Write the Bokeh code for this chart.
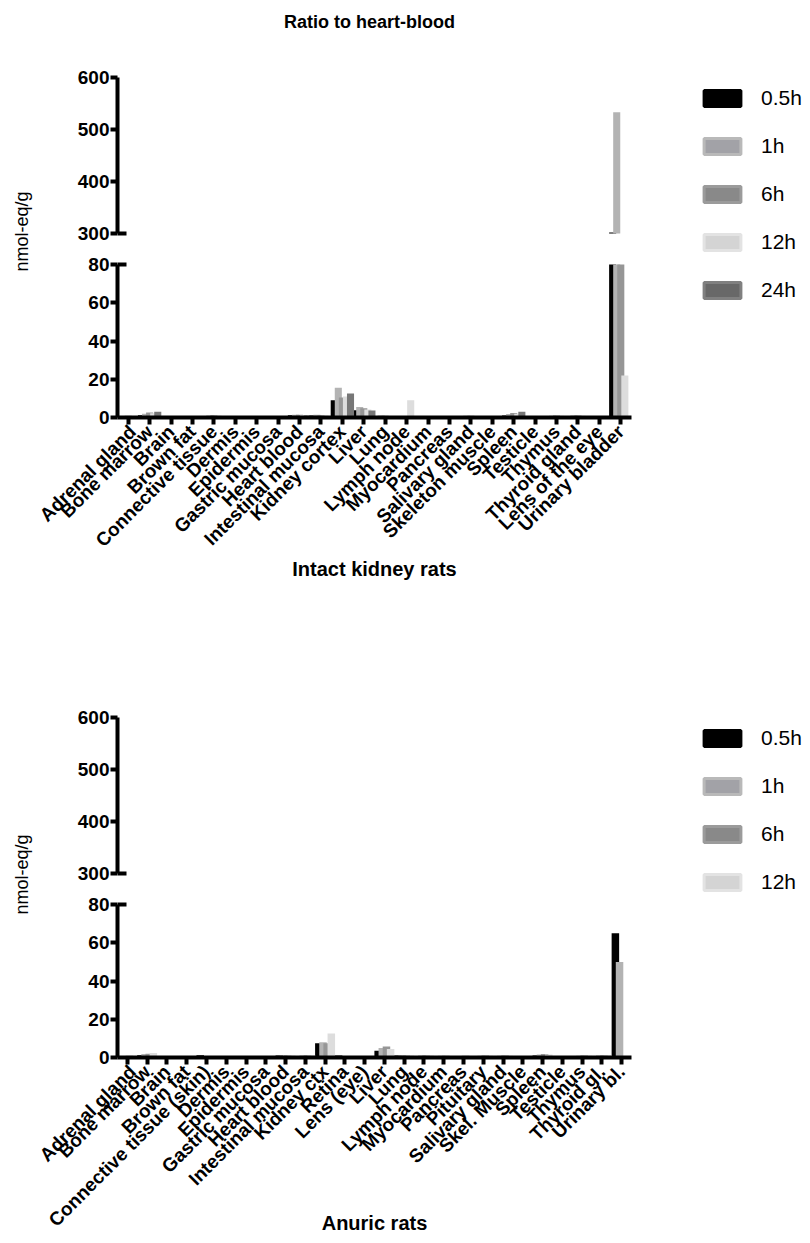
import numpy as np
from math import pi
from bokeh.plotting import figure
from bokeh.models import (ColumnDataSource, FactorRange, Range1d, FixedTicker,
                          Legend, LegendItem, Label, BoxAnnotation)
from bokeh.transform import dodge
from bokeh.layouts import column, row
from bokeh.embed import file_html
from bokeh.resources import INLINE

FONT = "Liberation Sans"

# ---------------- data: intact kidney rats (nmol-eq/g) ----------------
intact_tissues = ["Adrenal gland", "Bone marrow", "Brain", "Brown fat", "Connective tissue",
                  "Dermis", "Epidermis", "Gastric mucosa", "Heart blood", "Intestinal mucosa",
                  "Kidney cortex", "Liver", "Lung", "Lymph node", "Myocardium", "Pancreas",
                  "Salivary gland", "Skeleton muscle", "Spleen", "Testicle", "Thymus",
                  "Thyroid gland", "Lens of the eye", "Urinary bladder"]
intact_0_5h = [0.6, 1.2, 0.1, 0.3, 0.6, 0.3, 0.3, 0.4, 1.2, 1.0, 9.0, 3.8, 0.8, 0.5, 0.6, 0.6,
               0.6, 0.3, 1.0, 0.3, 0.6, 0.7, 0.1, 302]
intact_1h = [0.8, 2.0, 0.2, 0.5, 1.0, 0.4, 0.5, 0.6, 1.5, 1.4, 15.5, 5.5, 1.0, 0.7, 0.8, 0.8,
             0.9, 0.4, 1.8, 0.4, 0.9, 1.0, 0.1, 533]
intact_6h = [0.9, 2.6, 0.2, 0.5, 1.2, 0.5, 0.5, 0.7, 1.4, 1.2, 10.5, 4.8, 0.9, 0.8, 0.8, 0.8,
             0.9, 0.4, 2.4, 0.5, 1.0, 1.0, 0.1, 190]
intact_12h = [0.7, 2.2, 0.1, 0.4, 1.0, 0.4, 0.4, 0.5, 1.3, 1.1, 11.0, 4.2, 0.8, 9.0, 0.7, 0.7,
              0.8, 0.3, 2.0, 0.4, 0.9, 0.9, 0.1, 22]
intact_24h = [0.5, 3.0, 0.1, 0.3, 0.7, 0.3, 0.3, 0.4, 1.0, 0.8, 12.5, 3.6, 0.6, 0.6, 0.5, 0.5,
              0.6, 0.3, 3.0, 0.4, 0.7, 0.8, 0.1, 0]

# ---------------- data: anuric rats (nmol-eq/g) ----------------
anuric_tissues = ["Adrenal gland", "Bone marrow", "Brain", "Brown fat", "Connective tissue (skin)",
                  "Dermis", "Epidermis", "Gastric mucosa", "Heart blood", "Intestinal mucosa",
                  "Kidney ctx", "Retina", "Lens (eye)", "Liver", "Lung", "Lymph node",
                  "Myocardium", "Pancreas", "Pituitary", "Salivary gland", "Skel. Muscle",
                  "Spleen", "Testicle", "Thymus", "Thyroid gl.", "Urinary bl."]
anuric_0_5h = [0.6, 1.2, 0.1, 0.4, 1.2, 0.4, 0.4, 0.5, 1.0, 0.8, 7.5, 1.0, 0.1, 3.5, 1.0, 0.8,
               0.7, 0.6, 0.7, 0.7, 0.3, 1.0, 0.5, 0.6, 0.7, 65]
anuric_1h = [0.8, 1.8, 0.2, 0.5, 0.8, 0.5, 0.5, 0.7, 1.0, 1.0, 8.0, 0.8, 0.1, 5.0, 1.2, 1.0,
             0.9, 0.8, 0.9, 0.9, 0.4, 1.6, 0.7, 0.9, 1.0, 50]
anuric_6h = [0.9, 2.0, 0.2, 0.5, 0.7, 0.5, 0.5, 0.8, 1.1, 1.1, 7.5, 0.6, 0.1, 5.8, 1.1, 1.1,
             0.9, 0.9, 1.0, 1.0, 0.5, 1.8, 0.8, 1.0, 1.1, 0]
anuric_12h = [0.7, 2.4, 0.2, 0.4, 0.6, 0.4, 0.5, 0.7, 1.0, 1.0, 12.5, 0.5, 0.1, 4.5, 1.0, 1.0,
              0.8, 0.8, 0.9, 0.9, 0.4, 1.6, 0.7, 0.9, 1.0, 0]

series_labels = ["0.5h", "1h", "6h", "12h", "24h"]
bar_colors = ["#000000", "#b3b3b3", "#969696", "#dddddd", "#777777"]
swatch_fill = ["#000000", "#a2a2a7", "#898989", "#d4d4d4", "#686868"]
swatch_line = ["#000000", "#b9b9b9", "#9b9b9b", "#e3e3e3", "#808080"]

y_lower_ticks = [0, 20, 40, 60, 80]
y_upper_ticks = [300, 400, 500, 600]

# layout constants (pixels)
LEFT_W = 35          # column holding the y-axis title
PLOT_W = 624         # figures with the bars
LEG_W = 149          # column holding the legend
MB_LEFT, MB_RIGHT = 82, 28
UP_FRAME, LO_FRAME = 160, 157   # frames incl. 4px past the break
UP_PX, LO_PX = 156, 153         # pixels for 300..600 and 0..80
BREAK_PAD = 4


def bare_figure(w, h, xr, yr):
    f = figure(width=w, height=h, x_range=xr, y_range=yr, output_backend="svg",
               toolbar_location=None, x_axis_location=None, y_axis_location=None,
               min_border=0, outline_line_color=None)
    f.grid.visible = False
    return f


def style_yaxis(ax):
    ax.axis_line_width = 4
    ax.axis_line_color = "black"
    ax.major_tick_line_width = 4
    ax.major_tick_line_color = "black"
    ax.major_tick_out = 7
    ax.major_tick_in = 0
    ax.minor_tick_line_color = None
    ax.major_label_text_font = FONT
    ax.major_label_text_font_style = "bold"
    ax.major_label_text_font_size = "19px"
    ax.major_label_text_color = "black"
    ax.major_label_standoff = 1


def make_panel(tissues, series, xlabel, up_top, lo_bottom, bar_width, step,
               xlabel_standoff, ylabel_from_top, legend_top):
    lo_top = y_lower_ticks[-1]
    up_lo, up_hi = y_upper_ticks[0], y_upper_ticks[-1]
    up_pad = BREAK_PAD * (up_hi - up_lo) / UP_PX
    lo_pad = BREAK_PAD * lo_top / LO_PX
    xr = FactorRange(factors=tissues)
    n = len(series)
    offsets = [(i - (n - 1) / 2) * step for i in range(n)]

    data = {"tissue": tissues}
    for i, vals in enumerate(series):
        v = np.asarray(vals, dtype=float)
        data[f"lo{i}"] = np.minimum(v, lo_top)
        data[f"hi{i}"] = np.maximum(v, up_lo)
    src = ColumnDataSource(data)

    up_h = up_top + UP_FRAME + 11
    lo_h = 12 + LO_FRAME + lo_bottom
    up = figure(width=PLOT_W, height=up_h, x_range=xr, y_range=Range1d(up_lo - up_pad, up_hi),
                output_backend="svg", toolbar_location=None, x_axis_location=None,
                min_border_left=MB_LEFT, min_border_right=MB_RIGHT,
                min_border_top=up_top, min_border_bottom=11, outline_line_color=None)
    lo = figure(width=PLOT_W, height=lo_h, x_range=xr, y_range=Range1d(0, lo_top + lo_pad),
                output_backend="svg", toolbar_location=None,
                min_border_left=MB_LEFT, min_border_right=MB_RIGHT,
                min_border_top=12, min_border_bottom=lo_bottom, outline_line_color=None)
    for f in (up, lo):
        f.grid.visible = False
        style_yaxis(f.yaxis[0])
    up.yaxis[0].ticker = FixedTicker(ticks=y_upper_ticks)
    up.yaxis[0].bounds = (up_lo, up_hi)
    lo.yaxis[0].ticker = FixedTicker(ticks=y_lower_ticks)
    lo.yaxis[0].bounds = (0, lo_top)

    for i in range(n):
        x = dodge("tissue", offsets[i], range=xr)
        lo.vbar(x=x, top=f"lo{i}", bottom=0, width=bar_width, source=src,
                fill_color=bar_colors[i], line_color=None)
        up.vbar(x=x, top=f"hi{i}", bottom=up_lo, width=bar_width, source=src,
                fill_color=bar_colors[i], line_color=None)

    # break marks reaching into the plot
    cat_px = (PLOT_W - MB_LEFT - MB_RIGHT) / len(tissues)
    up.add_layout(BoxAnnotation(left=0, right=9 / cat_px, bottom=up_lo - 2 * up_pad / BREAK_PAD,
                                top=up_lo + 2 * up_pad / BREAK_PAD, fill_color="black",
                                fill_alpha=1, line_color=None))
    lo.add_layout(BoxAnnotation(left=0, right=9 / cat_px, bottom=lo_top - 2 * lo_pad / BREAK_PAD,
                                top=lo_top + 2 * lo_pad / BREAK_PAD, fill_color="black",
                                fill_alpha=1, line_color=None))

    xa = lo.xaxis[0]
    xa.axis_line_width = 4
    xa.major_tick_line_width = 4
    xa.major_tick_out = 7
    xa.major_tick_in = 0
    xa.major_label_orientation = pi / 4
    xa.major_label_text_font = FONT
    xa.major_label_text_font_style = "bold"
    xa.major_label_text_font_size = "19px"
    xa.major_label_text_color = "black"
    xa.major_label_standoff = 4
    xa.axis_label = xlabel
    xa.axis_label_text_font = FONT
    xa.axis_label_text_font_style = "bold"
    xa.axis_label_text_font_size = "20px"
    xa.axis_label_text_color = "black"
    xa.axis_label_standoff = xlabel_standoff

    total_h = up_h + lo_h
    # y-axis title column
    lab = bare_figure(LEFT_W, total_h, Range1d(0, LEFT_W), Range1d(0, total_h))
    lab.add_layout(Label(x=21, y=total_h - ylabel_from_top, text="nmol-eq/g", angle=pi / 2,
                         text_align="center", text_baseline="middle", text_font=FONT,
                         text_font_size="18px", text_color="black"))

    # legend column (swatch renderers themselves are not painted)
    leg = bare_figure(LEG_W, total_h, Range1d(0, LEG_W), Range1d(0, total_h))
    items = []
    for i in range(n):
        hidden = ColumnDataSource(dict(x=[-1000], top=[-1000]))
        r = leg.vbar(x="x", top="top", bottom=-1001, width=1, source=hidden,
                     fill_color=swatch_fill[i], line_color=swatch_line[i], line_width=3)
        r.visible = False
        items.append(LegendItem(label=series_labels[i], renderers=[r]))
    item_h = 24
    leg_h = n * item_h + (n - 1) * 24
    legend = Legend(items=items, location=(40, total_h - legend_top - leg_h),
                    glyph_width=46, glyph_height=20, label_height=item_h, label_standoff=16,
                    spacing=24, padding=0, margin=0, border_line_color=None,
                    background_fill_alpha=0, label_text_font=FONT,
                    label_text_font_size="21px", label_text_color="black")
    leg.add_layout(legend)

    return row(lab, column(up, lo, spacing=0), leg, spacing=0)


TITLE_H = 50
title_fig = bare_figure(LEFT_W + PLOT_W + LEG_W, TITLE_H,
                        Range1d(0, LEFT_W + PLOT_W + LEG_W), Range1d(0, TITLE_H))
title_fig.add_layout(Label(x=369, y=TITLE_H - 21, text="Ratio to heart-blood",
                           text_align="center", text_baseline="middle", text_font=FONT,
                           text_font_style="bold", text_font_size="18px", text_color="black"))

panel1 = make_panel(intact_tissues,
                    [intact_0_5h, intact_1h, intact_6h, intact_12h, intact_24h],
                    "Intact kidney rats", up_top=27, lo_bottom=167,
                    bar_width=0.33, step=0.19, xlabel_standoff=-3,
                    ylabel_from_top=181, legend_top=36)
panel2 = make_panel(anuric_tissues,
                    [anuric_0_5h, anuric_1h, anuric_6h, anuric_12h],
                    "Anuric rats", up_top=133, lo_bottom=184,
                    bar_width=0.38, step=0.21, xlabel_standoff=-29,
                    ylabel_from_top=290, legend_top=142)

layout = column(title_fig, panel1, panel2, spacing=0)
open("out.html", "w").write(file_html(layout, INLINE))
